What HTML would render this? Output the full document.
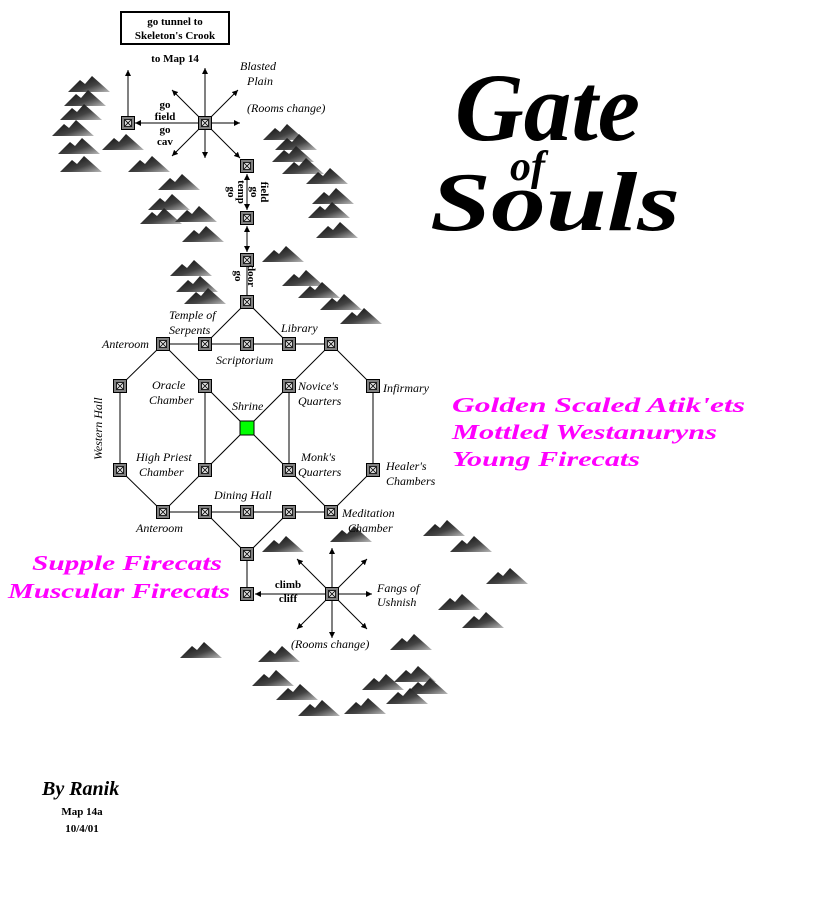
<!DOCTYPE html>
<html><head><meta charset="utf-8"><style>
body{margin:0;background:#fff;}
svg{display:block;}
.it{font-family:"Liberation Serif",serif;font-style:italic;font-size:12px;}
.bd{font-family:"Liberation Serif",serif;font-weight:bold;font-size:11px;}
.mg{font-family:"Liberation Serif",serif;font-style:italic;font-weight:bold;font-size:21px;fill:#ff00ff;}
.tt{font-family:"Liberation Serif",serif;font-style:italic;font-weight:bold;fill:#000;}
</style></head><body>
<svg id="map" width="828" height="898" viewBox="0 0 828 898">
<defs>
<linearGradient id="mg" x1="0" y1="0" x2="1" y2="1"><stop offset="0" stop-color="#000"/><stop offset="0.6" stop-color="#444"/><stop offset="1" stop-color="#bbb"/></linearGradient>
<marker id="ar" viewBox="0 0 6 6" refX="6" refY="3" markerWidth="6" markerHeight="6" orient="auto-start-reverse"><path d="M0,0L6,3L0,6z" fill="#000"/></marker>
</defs>
<g id="mountains"></g>
<g id="links" stroke="#000" stroke-width="1"></g>
<g id="rooms"></g>

<rect x="121" y="12" width="108" height="32" fill="#fff" stroke="#000" stroke-width="2"/>
<text class="bd" x="175" y="25" text-anchor="middle">go tunnel to</text>
<text class="bd" x="175" y="39" text-anchor="middle">Skeleton's Crook</text>
<text class="bd" x="175" y="62" text-anchor="middle">to Map 14</text>
<text class="it" x="240" y="70">Blasted</text>
<text class="it" x="247" y="85">Plain</text>
<text class="it" x="247" y="112">(Rooms change)</text>
<text class="bd" x="165" y="108" text-anchor="middle">go</text>
<text class="bd" x="165" y="120" text-anchor="middle">field</text>
<text class="bd" x="165" y="133" text-anchor="middle">go</text>
<text class="bd" x="165" y="145" text-anchor="middle">cav</text>
<text class="bd" transform="translate(228,192) rotate(90)" text-anchor="middle"><tspan x="0" dy="0">go</tspan><tspan x="0" dy="-10">temp</tspan></text>
<text class="bd" transform="translate(251,192) rotate(90)" text-anchor="middle"><tspan x="0" dy="0">go</tspan><tspan x="0" dy="-10">field</tspan></text>
<text class="bd" transform="translate(235,276) rotate(90)" text-anchor="middle"><tspan x="0" dy="0">go</tspan><tspan x="0" dy="-13">door</tspan></text>

<text class="it" x="169" y="319">Temple of</text>
<text class="it" x="169" y="334">Serpents</text>
<text class="it" x="281" y="332">Library</text>
<text class="it" x="102" y="348">Anteroom</text>
<text class="it" x="216" y="364">Scriptorium</text>
<text class="it" x="152" y="389">Oracle</text>
<text class="it" x="149" y="404">Chamber</text>
<text class="it" x="298" y="390">Novice's</text>
<text class="it" x="298" y="405">Quarters</text>
<text class="it" x="383" y="392">Infirmary</text>
<text class="it" x="232" y="410">Shrine</text>
<text class="it" transform="translate(102,460) rotate(-90)">Western Hall</text>
<text class="it" x="136" y="461">High Priest</text>
<text class="it" x="139" y="476">Chamber</text>
<text class="it" x="301" y="461">Monk's</text>
<text class="it" x="298" y="476">Quarters</text>
<text class="it" x="386" y="470">Healer's</text>
<text class="it" x="386" y="485">Chambers</text>
<text class="it" x="214" y="499">Dining Hall</text>
<text class="it" x="342" y="517">Meditation</text>
<text class="it" x="348" y="532">Chamber</text>
<text class="it" x="136" y="532">Anteroom</text>
<text class="bd" x="288" y="588" text-anchor="middle">climb</text>
<text class="bd" x="288" y="602" text-anchor="middle">cliff</text>
<text class="it" x="377" y="592">Fangs of</text>
<text class="it" x="377" y="606">Ushnish</text>
<text class="it" x="291" y="648">(Rooms change)</text>

<text class="tt" x="455" y="140" font-size="96" textLength="185" lengthAdjust="spacingAndGlyphs">Gate</text>
<text class="tt" x="510" y="180" font-size="42">of</text>
<text class="tt" x="430" y="230" font-size="84" textLength="250" lengthAdjust="spacingAndGlyphs">Souls</text>

<text class="mg" x="452" y="412" textLength="293" lengthAdjust="spacingAndGlyphs">Golden Scaled Atik'ets</text>
<text class="mg" x="452" y="439" textLength="265" lengthAdjust="spacingAndGlyphs">Mottled Westanuryns</text>
<text class="mg" x="452" y="466" textLength="188" lengthAdjust="spacingAndGlyphs">Young Firecats</text>
<text class="mg" x="32" y="570" textLength="190" lengthAdjust="spacingAndGlyphs">Supple Firecats</text>
<text class="mg" x="8" y="598" textLength="222" lengthAdjust="spacingAndGlyphs">Muscular Firecats</text>

<text class="tt" x="42" y="795" font-size="20">By Ranik</text>
<text class="bd" x="82" y="815" text-anchor="middle">Map 14a</text>
<text class="bd" x="82" y="832" text-anchor="middle">10/4/01</text>
</svg>
<script>
const NS='http://www.w3.org/2000/svg';
const mountainPos=[[88,78],[84,92],[80,106],[72,122],[78,140],[80,158],[122,136],[148,158],[283,126],[295,136],[292,148],[302,160],[178,176],[168,196],[160,210],[195,208],[202,228],[326,170],[332,190],[328,204],[336,224],[190,262],[196,278],[204,290],[282,248],[302,272],[318,284],[340,296],[360,310],[350,528],[443,522],[470,538],[506,570],[458,596],[482,614],[410,636],[200,644],[278,648],[272,672],[296,686],[318,702],[364,700],[382,676],[414,668],[426,680],[406,690],[282,538]];
const rooms=[[128,123],[205,123],[247,166],[247,218],[247,260],[247,302],[163,344],[205,344],[247,344],[289,344],[331,344],[120,386],[205,386],[289,386],[373,386],[120,470],[205,470],[289,470],[373,470],[163,512],[205,512],[247,512],[289,512],[331,512],[247,554],[247,594],[332,594]];
const links=[[247,302,205,344],[247,302,289,344],[163,344,331,344],[163,344,120,386],[163,344,205,386],[331,344,289,386],[331,344,373,386],[120,386,120,470],[205,386,205,470],[289,386,289,470],[373,386,373,470],[205,386,289,470],[289,386,205,470],[120,470,163,512],[205,470,163,512],[289,470,331,512],[373,470,331,512],[163,512,331,512],[205,512,247,554],[289,512,247,554],[247,554,247,594],[247,260,247,302]];
const arrows=[[128,123,128,70],[205,123,135,123],[205,123,205,68],[205,123,205,158],[205,123,240,123],[205,123,172,90],[205,123,238,90],[205,123,172,156],[205,123,240,158],[247,210,247,174],[247,174,247,210],[247,252,247,226],[247,226,247,252],[332,594,255,594],[255,594,332,594],[332,594,332,548],[332,594,332,638],[332,594,372,594],[332,594,297,559],[332,594,367,559],[332,594,297,629],[332,594,367,629]];
const mg=document.getElementById('mountains');
mountainPos.forEach(p=>{const el=document.createElementNS(NS,'path');


const x=p[0],y=p[1];
el.setAttribute('d',`M${x-20},${y+14}L${x-8},${y+2}L${x-3},${y+6}L${x+4},${y-2}L${x+22},${y+14}Z`);
el.setAttribute('fill','url(#mg)');mg.appendChild(el);});
const lg=document.getElementById('links');
links.forEach(l=>{const el=document.createElementNS(NS,'line');


el.setAttribute('x1',l[0]);el.setAttribute('y1',l[1]);el.setAttribute('x2',l[2]);el.setAttribute('y2',l[3]);lg.appendChild(el);});
arrows.forEach(l=>{const el=document.createElementNS(NS,'line');


el.setAttribute('x1',l[0]);el.setAttribute('y1',l[1]);el.setAttribute('x2',l[2]);el.setAttribute('y2',l[3]);el.setAttribute('marker-end','url(#ar)');lg.appendChild(el);});
const rg=document.getElementById('rooms');
rooms.forEach(r=>{const g=document.createElementNS(NS,'g');


const x=r[0],y=r[1];
g.innerHTML=`<rect x="${x-6.5}" y="${y-6.5}" width="13" height="13" fill="#808080" stroke="#000"/><rect x="${x-3.5}" y="${y-3.5}" width="7" height="7" fill="#ddd" stroke="#000" stroke-width="0.8"/><path d="M${x-3},${y-3}L${x+3},${y+3}M${x+3},${y-3}L${x-3},${y+3}" stroke="#000" stroke-width="0.8"/>`;
rg.appendChild(g);});
const s=document.createElementNS(NS,'rect');


s.setAttribute('x',240);s.setAttribute('y',421);s.setAttribute('width',14);s.setAttribute('height',14);s.setAttribute('fill','#00ff00');s.setAttribute('stroke','#000');rg.appendChild(s);
</script>
</body></html>
